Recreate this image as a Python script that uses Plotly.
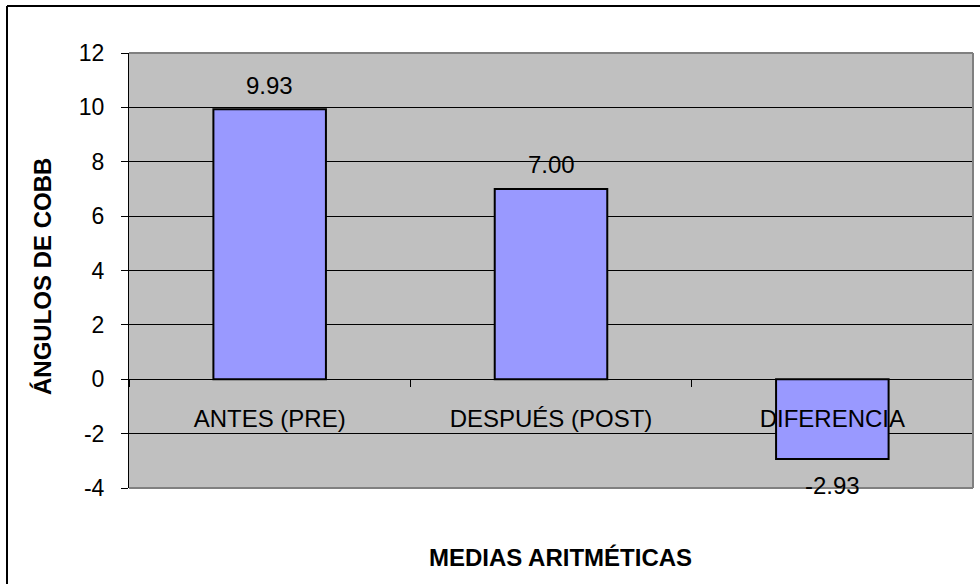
import plotly.graph_objects as go

# Arithmetic means of Cobb angles
categories = ["ANTES (PRE)", "DESPUÉS (POST)", "DIFERENCIA"]
values = [9.93, 7.00, -2.93]

y_ticks = [-4, -2, 0, 2, 4, 6, 8, 10, 12]
y_tick_labels = ["-4", "-2", "0", "2", "4", "6", "8", "10", "12"]

W, H = 980, 584
L, R, T, B = 129, 7, 53, 96
pw, ph = W - L - R, H - T - B

FONT = "Liberation Sans, Arial, sans-serif"


def px_x(px):
    return (px - L) / pw


def px_y(py):
    return (H - B - py) / ph


fig = go.Figure()
fig.add_trace(go.Bar(
    x=categories,
    y=values,
    width=0.4,
    marker=dict(color="#9999FF", line=dict(color="black", width=2)),
    hoverinfo="x+y",
))

# value labels above positive bars and below negative ones
annotations = []
for c, v in zip(categories, values):
    annotations.append(dict(
        x=c, y=v, xref="x", yref="y",
        text=f"{v:.2f}", showarrow=False,
        yanchor="middle", yshift=24 if v >= 0 else -27,
        font=dict(family=FONT, size=24, color="black"),
    ))

annotations.append(dict(
    x=px_x(42), y=px_y(277), xref="paper", yref="paper",
    text="<b>ÁNGULOS DE COBB</b>", textangle=-90, showarrow=False,
    xanchor="center", yanchor="middle",
    font=dict(family=FONT, size=24, color="black"),
))
annotations.append(dict(
    x=px_x(560), y=px_y(557), xref="paper", yref="paper",
    text="<b>MEDIAS ARITMÉTICAS</b>", showarrow=False,
    xanchor="center", yanchor="middle",
    font=dict(family=FONT, size=24, color="black"),
))

y_min, y_max = y_ticks[0], y_ticks[-1]
zero_pos = (0 - y_min) / (y_max - y_min)

shapes = [
    # plot area border (top, right, bottom)
    dict(type="line", xref="paper", yref="paper", x0=0, x1=1, y0=1, y1=1,
         line=dict(color="#808080", width=2)),
    dict(type="line", xref="paper", yref="paper", x0=1, x1=1, y0=0, y1=1,
         line=dict(color="#808080", width=2)),
    dict(type="line", xref="paper", yref="paper", x0=0, x1=1, y0=0, y1=0,
         line=dict(color="#808080", width=2)),
    # chart frame
    dict(type="line", xref="paper", yref="paper", x0=px_x(7), x1=px_x(7),
         y0=px_y(600), y1=px_y(6), line=dict(color="black", width=2)),
    dict(type="line", xref="paper", yref="paper", x0=px_x(7), x1=px_x(990),
         y0=px_y(6), y1=px_y(6), line=dict(color="black", width=2)),
]

fig.update_layout(
    width=W, height=H,
    margin=dict(l=L, r=R, t=T, b=B, pad=0),
    paper_bgcolor="white",
    plot_bgcolor="#C0C0C0",
    showlegend=False,
    font=dict(family=FONT, color="black"),
    annotations=annotations,
    shapes=shapes,
    xaxis=dict(
        type="category",
        range=[-0.5, len(categories) - 0.5],
        anchor="free", position=zero_pos,
        showline=True, linecolor="black", linewidth=1,
        ticks="outside", ticklen=7, tickcolor="black", tickwidth=1,
        tickson="boundaries",
        showgrid=False,
        tickfont=dict(family=FONT, size=24, color="black"),
        ticklabelstandoff=18,
    ),
    yaxis=dict(
        range=[y_min, y_max],
        tickvals=y_ticks, ticktext=y_tick_labels,
        showgrid=True, gridcolor="black", gridwidth=1,
        zeroline=True, zerolinecolor="black", zerolinewidth=1,
        showline=True, linecolor="black", linewidth=1,
        ticks="outside", ticklen=7, tickcolor="black", tickwidth=1,
        tickfont=dict(family=FONT, size=23, color="black"),
        ticklabelstandoff=12,
    ),
)

fig.write_html("out.html")
